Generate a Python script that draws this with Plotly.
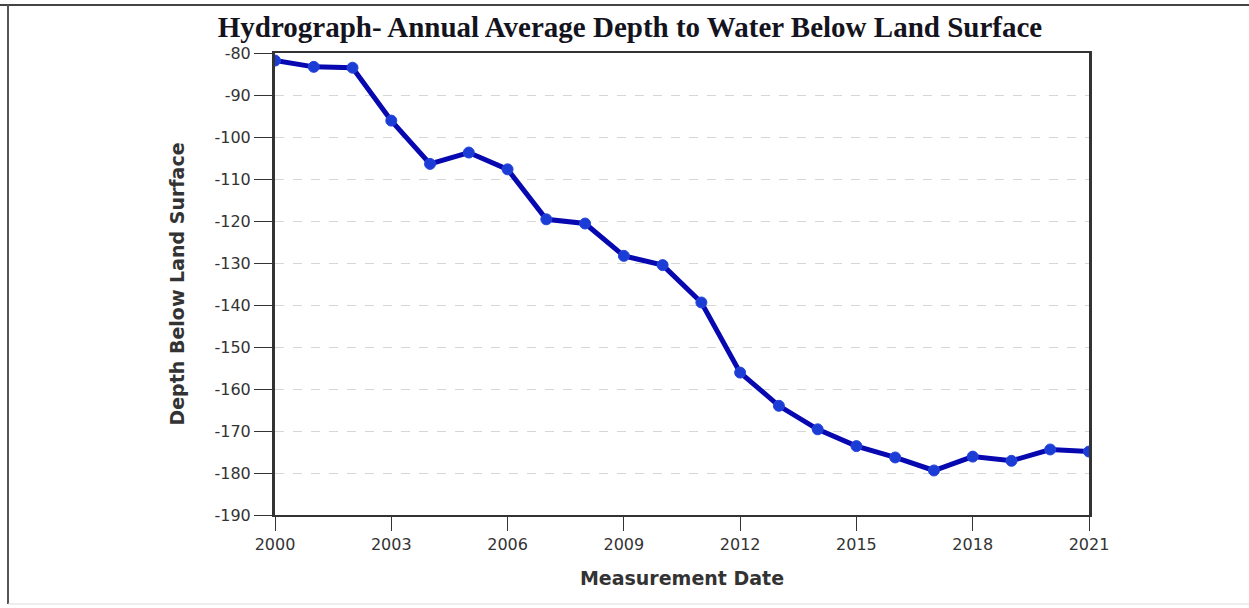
import plotly.graph_objects as go

years = [2000, 2001, 2002, 2003, 2004, 2005, 2006, 2007, 2008, 2009, 2010,
         2011, 2012, 2013, 2014, 2015, 2016, 2017, 2018, 2019, 2020, 2021]
depth = [-81.8, -83.3, -83.5, -96.1, -106.4, -103.7, -107.7, -119.6, -120.6, -128.3, -130.5,
         -139.4, -156.1, -164.0, -169.6, -173.6, -176.3, -179.4, -176.1, -177.1, -174.4, -174.9]
x_ticks = [2000, 2003, 2006, 2009, 2012, 2015, 2018, 2021]
y_ticks = [-80, -90, -100, -110, -120, -130, -140, -150, -160, -170, -180, -190]

title_text = "Hydrograph- Annual Average Depth to Water Below Land Surface"
x_title = "Measurement Date"
y_title = "Depth Below Land Surface"

W, H = 1249, 608
L, R, T, B = 275, 160, 53, 93
pw, ph = W - L - R, H - T - B

fig = go.Figure()
fig.add_trace(go.Scatter(
    x=years, y=depth, mode="lines+markers",
    line=dict(color="#0808b0", width=5),
    marker=dict(color="#1c3cd6", size=11, line=dict(color="#2646dc", width=1)),
    showlegend=False, hoverinfo="x+y",
))

fig.update_layout(
    width=W, height=H,
    paper_bgcolor="white", plot_bgcolor="white",
    margin=dict(l=L, r=R, t=T, b=B),
    title=dict(text=title_text, x=630 / W, xanchor="center", xref="container",
               y=1 - 27 / H, yanchor="middle",
               font=dict(family="Liberation Serif", size=29, color="#141420", weight="bold")),
    xaxis=dict(
        range=[2000, 2021], tickmode="array", tickvals=x_ticks,
        ticktext=[str(v) for v in x_ticks],
        showgrid=False, zeroline=False,
        showline=True, linecolor="#333333", linewidth=2, mirror=True,
        ticks="outside", ticklen=14, tickcolor="#333333", tickwidth=1,
        tickfont=dict(family="DejaVu Sans", size=16, color="#333333"),
        title=dict(text=x_title, standoff=18,
                   font=dict(family="DejaVu Sans", size=19, color="#333333", weight="bold")),
    ),
    yaxis=dict(
        range=[-190, -80], tickmode="array", tickvals=y_ticks,
        ticktext=[str(v) for v in y_ticks],
        showgrid=True, gridcolor="#d6d6d6", griddash="dash", gridwidth=1,
        zeroline=False,
        showline=True, linecolor="#333333", linewidth=3, mirror=True,
        ticks="outside", ticklen=18, tickcolor="#333333", tickwidth=1,
        tickfont=dict(family="DejaVu Sans", size=16, color="#333333"),
        title=dict(text=y_title, standoff=25,
                   font=dict(family="DejaVu Sans", size=19, color="#333333", weight="bold")),
    ),
    shapes=[
        dict(type="line", xref="paper", yref="paper", x0=-L / pw, x1=(W - L) / pw,
             y0=1 + (T - 5) / ph, y1=1 + (T - 5) / ph,
             line=dict(color="#444444", width=2)),
        dict(type="line", xref="paper", yref="paper", x0=-(L - 8) / pw, x1=-(L - 8) / pw,
             y0=1 + (T - 5) / ph, y1=-(B - 4) / ph,
             line=dict(color="#555555", width=2)),
        dict(type="line", xref="paper", yref="paper", x0=-(L - 8) / pw, x1=(W - L) / pw,
             y0=-(B - 4) / ph, y1=-(B - 4) / ph,
             line=dict(color="#dddddd", width=1)),
    ],
)

fig.write_html("out.html", config={"displayModeBar": False},
               post_script="document.body.style.margin='0';")
